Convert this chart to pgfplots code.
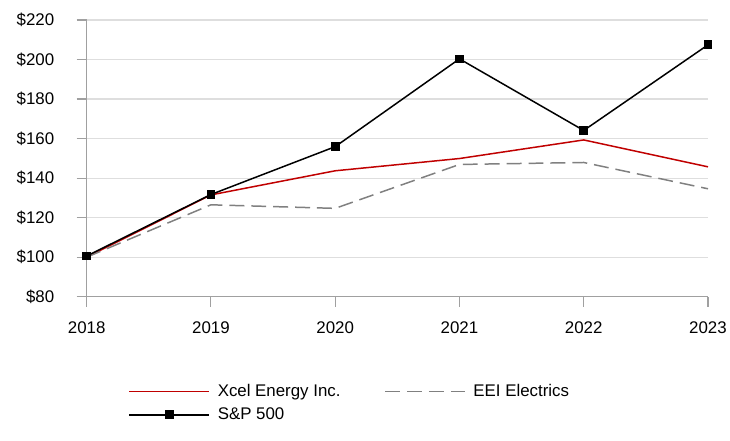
\documentclass[border=0pt]{standalone}
\usepackage{fontspec}
\setmainfont{Liberation Sans}
\usepackage{pgfplots}
\pgfplotsset{compat=1.18}
\definecolor{xcelred}{RGB}{192,0,0}
\definecolor{eeigray}{RGB}{128,128,128}
\definecolor{gridgray}{RGB}{222,222,222}
\definecolor{axisgray}{RGB}{160,160,160}

\begin{document}
\begin{tikzpicture}[x=1bp,y=1bp]
\begin{axis}[
    name=ax, at={(0,0)}, anchor=south west,
    scale only axis, width=624bp, height=278bp,
    xmin=2018, xmax=2023, ymin=80, ymax=220,
    xtick={2018,...,2023}, ytick={80,100,...,220},
    axis x line*=bottom, axis y line*=left,
    axis line style={axisgray, line width=1.2bp},
    tick style={axisgray, line width=1.2bp},
    tick align=outside, major tick length=10bp,
    ymajorgrids, grid style={gridgray, line width=1.2bp},
    font=\fontsize{17}{20}\selectfont,
    /pgf/number format/assume math mode=true,
    x tick label style={/pgf/number format/1000 sep={}, yshift=-12bp},
    yticklabel={\$\pgfmathprintnumber{\tick}},
    y tick label style={xshift=-19bp},
    legend columns=2,
    legend cell align=left,
    legend style={draw=none, fill=none, at={(axis description cs:0.0625,-0.302)}, anchor=north west,
        font=\fontsize{17}{20}\selectfont, row sep=6bp,
        /tikz/every odd column/.append style={column sep=6bp},
        /tikz/every even column/.append style={column sep=42bp}},
    legend image code/.code={\draw[mark repeat=2, mark phase=2, #1] plot coordinates {(0bp,0bp) (40bp,0bp) (80bp,0bp)};},
]
\addplot[xcelred, line width=1.5bp] coordinates {
  (2018,100) (2019,131.5) (2020,143.7) (2021,149.9) (2022,159.3) (2023,145.7)};
\addplot[eeigray, line width=1.5bp, dash pattern=on 15bp off 7bp] coordinates {
  (2018,100) (2019,126.5) (2020,124.7) (2021,146.9) (2022,147.9) (2023,134.6)};
\addplot[black, line width=1.5bp, mark=square*, mark size=3.6bp] coordinates {
  (2018,100.6) (2019,131.7) (2020,155.9) (2021,200.3) (2022,164.1) (2023,207.4)};
\legend{Xcel Energy Inc., EEI Electrics, S\&P 500}
\end{axis}
\path[use as bounding box] (-87bp,-144bp) rectangle (643bp,298bp);
\end{tikzpicture}
\end{document}
